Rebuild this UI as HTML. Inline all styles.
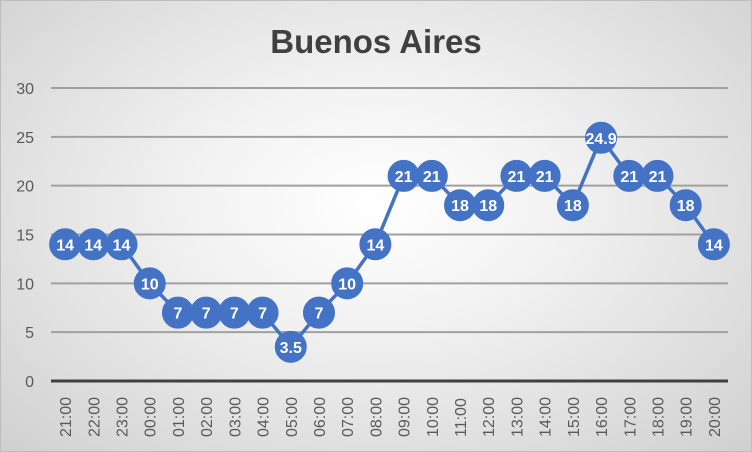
<!DOCTYPE html>
<html><head><meta charset="utf-8"><style>
html,body{margin:0;padding:0}
body{width:752px;height:452px;overflow:hidden;font-family:"Liberation Sans",sans-serif}
#bg{position:absolute;left:0;top:0;width:752px;height:452px;background:radial-gradient(ellipse at 50% 45%,#ffffff 0%,#f2f2f2 35%,#d0d0d0 100%);border:1px solid #bdbdbd;box-sizing:border-box}
</style></head><body>
<div id="bg"></div>
<svg id="chart" width="752" height="452" style="position:absolute;left:0;top:0">
<text x="376" y="53" text-anchor="middle" font-size="33" font-weight="bold" fill="#404040" font-family="Liberation Sans, sans-serif">Buenos Aires</text>
<g id="grid"></g><g id="xl"></g><g id="series"></g>
</svg>
<script>
const categories=["21:00","22:00","23:00","00:00","01:00","02:00","03:00","04:00","05:00","06:00","07:00","08:00","09:00","10:00","11:00","12:00","13:00","14:00","15:00","16:00","17:00","18:00","19:00","20:00"];
const values=[14,14,14,10,7,7,7,7,3.5,7,10,14,21,21,18,18,21,21,18,24.9,21,21,18,14];
const yTicks=[0,5,10,15,20,25,30];
const NS="http://www.w3.org/2000/svg";
const x0=51,x1=728,y0=381,y30=88;
const bw=(x1-x0)/categories.length;
const xs=i=>x0+bw*(i+0.5);
const ys=v=>y0+(y30-y0)*v/30;
function mk(t,a,p){const e=document.createElementNS(NS,t);for(const k in a)e.setAttribute(k,a[k]);p.appendChild(e);return e;}
const g=document.getElementById('grid');
yTicks.forEach(t=>{
 const l=mk('line',{x1:x0,x2:x1,y1:ys(t),y2:ys(t),stroke:t===0?'#404040':'#a0a0a0','stroke-width':t===0?3:2},g);
 
 
 const tx=mk('text',{x:34,y:ys(t)+6,'text-anchor':'end','font-size':16,fill:'#595959'},g);
 tx.textContent=t;
 
 
});
const xl=document.getElementById('xl');
categories.forEach((c,i)=>{
 const tx=mk('text',{transform:`translate(${xs(i)+6},${437}) rotate(-90)`,'font-size':16,fill:'#595959'},xl);
 tx.textContent=c;
 
 
});
const s=document.getElementById('series');
const pl=mk('polyline',{points:values.map((v,i)=>xs(i)+','+ys(v)).join(' '),fill:'none',stroke:'#4472C4','stroke-width':3.5},s);


values.forEach((v,i)=>{
 const c=mk('circle',{cx:xs(i),cy:ys(v),r:15.5,fill:'#4472C4',stroke:'#4472C4'},s);
 
 
 const t=mk('text',{x:xs(i),y:ys(v)+6,'text-anchor':'middle','font-size':16,'font-weight':'bold',fill:'#fff'},s);
 t.textContent=v;
 
 
});
</script>
</body></html>
